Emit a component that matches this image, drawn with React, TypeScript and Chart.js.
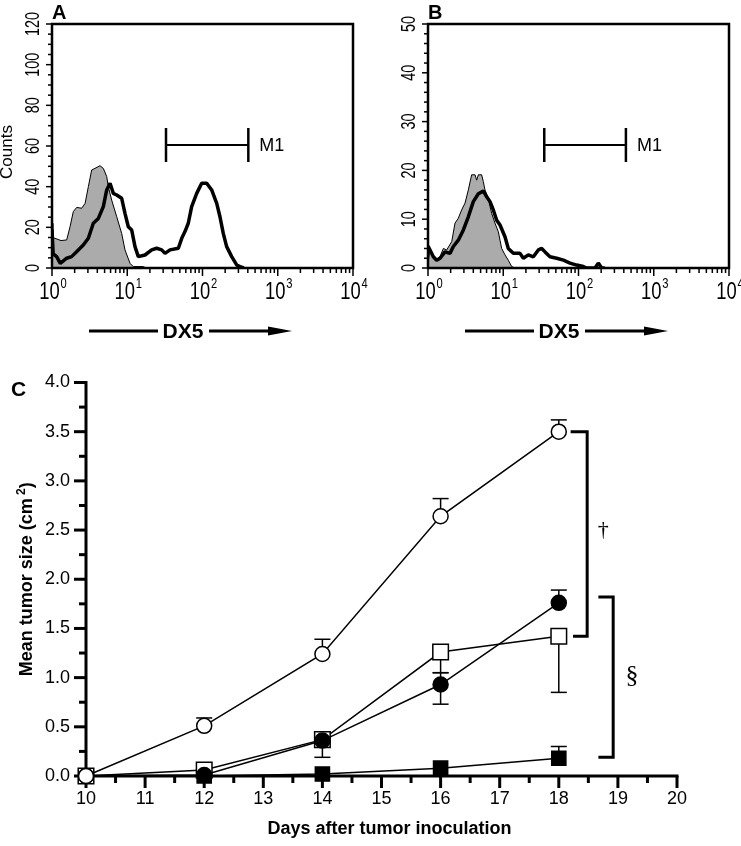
import React, { useEffect, useRef } from 'react';
import { Chart, registerables } from 'chart.js';

Chart.register(...registerables);

const FONT = '"Liberation Sans", Arial, Helvetica, sans-serif';
const SERIF = '"Liberation Serif", "DejaVu Serif", serif';

// ---------- Panel A: flow cytometry histogram (x = log10 DX5 intensity, in decades) ----------
const aIsoLog = [0, 0.012, 0.04, 0.12, 0.195, 0.24, 0.283, 0.328, 0.395, 0.44, 0.483, 0.527, 0.571, 0.638, 0.682, 0.727, 0.748, 0.793, 0.86, 0.926, 0.97, 1.037, 1.08, 1.21, 1.25];
const aIsoCount = [22, 15, 14.6, 13.5, 13.8, 20.3, 27.7, 29.8, 29.4, 31.8, 40, 48.2, 49, 50.3, 49, 45, 40, 33.4, 25.2, 17, 8.9, 2.3, 0.7, 0.7, 0];
const aDx5Log = [0, 0.015, 0.062, 0.11, 0.195, 0.261, 0.35, 0.416, 0.483, 0.549, 0.616, 0.682, 0.727, 0.771, 0.815, 0.86, 0.926, 0.97, 1.014, 1.059, 1.103, 1.147, 1.236, 1.325, 1.391, 1.458, 1.502, 1.568, 1.679, 1.724, 1.767, 1.811, 1.856, 1.923, 1.989, 2.056, 2.122, 2.189, 2.232, 2.276, 2.321, 2.388, 2.454, 2.498, 2.55];
const aDx5Count = [19, 7, 5.6, 2.3, 4.8, 5.6, 8.9, 11.3, 14.6, 22, 24.4, 30.2, 38.4, 41.7, 36.7, 35.9, 34.3, 26.9, 20.3, 18.7, 10.5, 5.6, 6.4, 8.9, 9.7, 8.9, 7.2, 8.9, 9.7, 14.6, 17.9, 22, 30.2, 36.7, 41.7, 41.7, 38.4, 31.8, 25.2, 17, 10.5, 5.6, 1.5, 0.7, 0];
const aYTicks = [0, 20, 40, 60, 80, 100, 120];
const aGate = [1.515, 2.609];
const aGateLevel = 60.5;

// ---------- Panel B ----------
const bIsoLog = [0, 0.027, 0.093, 0.16, 0.204, 0.248, 0.315, 0.359, 0.403, 0.447, 0.492, 0.536, 0.58, 0.625, 0.647, 0.669, 0.713, 0.735, 0.757, 0.802, 0.824, 0.846, 0.89, 0.935, 0.957, 0.979, 1.023, 1.067, 1.112, 1.156];
const bIsoCount = [1, 4.0, 1.6, 2.3, 4.0, 3.7, 5.4, 9.2, 10.2, 11.9, 13.3, 16, 19.1, 19.1, 18, 19.1, 19.1, 17.7, 16, 14.3, 12.6, 11.2, 9.2, 7.4, 5.7, 4.0, 2.7, 1.6, 0.3, 0];
const bDx5Log = [0, 0.027, 0.071, 0.115, 0.16, 0.226, 0.292, 0.337, 0.403, 0.47, 0.536, 0.602, 0.669, 0.735, 0.78, 0.824, 0.868, 0.913, 0.957, 1.023, 1.067, 1.134, 1.223, 1.267, 1.333, 1.4, 1.466, 1.511, 1.555, 1.621, 1.71, 1.799, 1.887, 1.976, 2.064, 2.108, 2.219, 2.263, 2.308, 2.35];
const bDx5Count = [4.5, 3.7, 2.3, 1.6, 2.0, 3.3, 3.0, 4.4, 5.7, 7.8, 10.5, 13.6, 15.2, 15.8, 14.6, 13.6, 11.9, 9.8, 8.8, 6.4, 4.0, 3.0, 3.0, 2.0, 2.7, 2.3, 3.7, 4.0, 3.3, 2.3, 2.0, 1.6, 1.0, 0.6, 0.3, 0, 0, 1.0, 0, 0];
const bYTicks = [0, 10, 20, 30, 40, 50];
const bGate = [1.545, 2.63];
const bGateLevel = 25.2;

const decadeTicks = [0, 1, 2, 3, 4];
const gateLabel = 'M1';
const histAxisLabel = 'DX5';
const countsLabel = 'Counts';

// ---------- Panel C: tumor growth ----------
const days = [10, 12, 14, 16, 18];
const openCircle = [0, 0.51, 1.24, 2.64, 3.5];
const openCircleHi = [null, 0.59, 1.39, 2.82, 3.62];
const filledCircle = [0, 0.01, 0.36, 0.93, 1.76];
const filledCircleHi = [null, null, null, 1.05, 1.89];
const filledCircleLo = [null, null, 0.19, 0.73, null];
const openSquare = [0, 0.06, 0.37, 1.26, 1.42];
const openSquareLo = [null, null, null, 1.05, 0.85];
const filledSquare = [0, 0, 0.02, 0.08, 0.18];
const filledSquareHi = [null, null, null, null, 0.3];
const cYTicks = [0, 0.5, 1, 1.5, 2, 2.5, 3, 3.5, 4];
const cXTicks = [10, 11, 12, 13, 14, 15, 16, 17, 18, 19, 20];
const cXTitle = 'Days after tumor inoculation';
const cYTitle = 'Mean tumor size (cm';

function drawText(ctx: CanvasRenderingContext2D, s: string, x: number, y: number, size: number, o: any = {}) {
  const { bold = false, align = 'left', baseline = 'alphabetic', rot = 0, sx = 1, family = FONT } = o;
  ctx.save();
  ctx.translate(x, y);
  if (rot) ctx.rotate(rot);
  if (sx !== 1) ctx.scale(sx, 1);
  ctx.font = `${bold ? 'bold ' : ''}${size}px ${family}`;
  ctx.textAlign = align;
  ctx.textBaseline = baseline;
  ctx.fillStyle = '#000';
  ctx.fillText(s, 0, 0);
  ctx.restore();
}

function measure(ctx: CanvasRenderingContext2D, s: string, size: number, bold = false, sx = 1, family = FONT) {
  ctx.save();
  ctx.font = `${bold ? 'bold ' : ''}${size}px ${family}`;
  const w = ctx.measureText(s).width * sx;
  ctx.restore();
  return w;
}

function line(ctx: CanvasRenderingContext2D, x1: number, y1: number, x2: number, y2: number, w: number) {
  ctx.lineWidth = w;
  ctx.beginPath();
  ctx.moveTo(x1, y1);
  ctx.lineTo(x2, y2);
  ctx.stroke();
}

function histPlugin(cfg: any) {
  return {
    id: 'histDecor',
    afterDraw(chart: any) {
      const { ctx, chartArea: ca } = chart;
      const xs = chart.scales.x;
      const ys = chart.scales.y;
      ctx.save();
      ctx.strokeStyle = '#000';
      ctx.lineCap = 'butt';
      // frame
      ctx.lineWidth = 2.5;
      ctx.strokeRect(ca.left, ca.top, ca.right - ca.left, ca.bottom - ca.top);
      // y ticks
      const nMinor = Math.round(cfg.yMax / cfg.yMinor);
      for (let i = 0; i <= nMinor; i++) {
        const v = i * cfg.yMinor;
        const py = ys.getPixelForValue(v);
        const major = cfg.yTicks.includes(v);
        line(ctx, ca.left - (major ? 6 : 4), py, ca.left, py, 1.5);
      }
      cfg.yTicks.forEach((v: number) => {
        drawText(ctx, String(v), ca.left - 9, ys.getPixelForValue(v), 20, { rot: -Math.PI / 2, align: 'center', baseline: 'bottom', sx: 0.72 });
      });
      // x ticks (log decades)
      for (let d = 0; d < 4; d++) {
        for (let k = 2; k <= 9; k++) {
          const px = xs.getPixelForValue(d + Math.log10(k));
          line(ctx, px, ca.bottom, px, ca.bottom + 5, 1.5);
        }
      }
      decadeTicks.forEach((d) => {
        const px = xs.getPixelForValue(d);
        line(ctx, px, ca.bottom, px, ca.bottom + 8, 1.5);
        const wb = measure(ctx, '10', 23, false, 0.8);
        const ws = measure(ctx, String(d), 14, false, 0.8);
        const left = px - (wb + ws + 1) / 2 + 1;
        drawText(ctx, '10', left, ca.bottom + 13, 23, { baseline: 'top', sx: 0.8 });
        drawText(ctx, String(d), left + wb + 1, ca.bottom + 9, 14, { baseline: 'top', sx: 0.8 });
      });
      // gate marker M1
      const gy = ys.getPixelForValue(cfg.gateLevel);
      const g0 = xs.getPixelForValue(cfg.gate[0]);
      const g1 = xs.getPixelForValue(cfg.gate[1]);
      line(ctx, g0, gy, g1, gy, 2);
      line(ctx, g0, gy - 17, g0, gy + 17, 2.5);
      line(ctx, g1, gy - 17, g1, gy + 17, 2.5);
      drawText(ctx, gateLabel, g1 + 11, gy + 1, 18, { baseline: 'middle' });
      // DX5 arrow
      const ay = ca.bottom + 63;
      line(ctx, ca.left + 37, ay, ca.left + 106, ay, 3);
      drawText(ctx, histAxisLabel, ca.left + 131, ay + 1, 21, { bold: true, align: 'center', baseline: 'middle' });
      line(ctx, ca.left + 157, ay, ca.left + 222, ay, 3);
      ctx.fillStyle = '#000';
      ctx.beginPath();
      ctx.moveTo(ca.left + 240, ay);
      ctx.lineTo(ca.left + 216, ay - 4.5);
      ctx.lineTo(ca.left + 216, ay + 4.5);
      ctx.closePath();
      ctx.fill();
      // panel letter
      drawText(ctx, cfg.letter, ca.left, 3, 20, { bold: true, baseline: 'top' });
      if (cfg.showCounts) {
        drawText(ctx, countsLabel, 16, (ca.top + ca.bottom) / 2 + 6, 17, { rot: -Math.PI / 2, align: 'center', baseline: 'bottom' });
      }
      ctx.restore();
    },
  };
}

function makeHist(canvas: HTMLCanvasElement, cfg: any) {
  const pts = (xs: number[], ys: number[]) => xs.map((x, i) => ({ x, y: ys[i] }));
  return new Chart(canvas, {
    type: 'line',
    data: {
      datasets: [
        // first dataset is painted last (on top)
        { label: 'DX5', data: pts(cfg.dx5X, cfg.dx5Y), borderColor: '#000', borderWidth: 3.5, fill: false, pointRadius: 0, tension: 0, borderJoinStyle: 'bevel' },
        { label: 'isotype', data: pts(cfg.isoX, cfg.isoY), borderColor: '#000', borderWidth: 1, backgroundColor: '#ababab', fill: 'origin', pointRadius: 0, tension: 0 },
      ],
    },
    options: {
      responsive: false,
      animation: false,
      events: [],
      layout: { padding: cfg.padding },
      plugins: { legend: { display: false }, tooltip: { enabled: false } },
      scales: {
        x: { type: 'linear', min: 0, max: 4, display: false },
        y: { type: 'linear', min: 0, max: cfg.yMax, display: false },
      },
    },
    plugins: [histPlugin(cfg)],
  } as any);
}

const errorSets = [
  { v: openCircle, hi: openCircleHi, lo: null },
  { v: filledCircle, hi: filledCircleHi, lo: filledCircleLo },
  { v: openSquare, hi: null, lo: openSquareLo },
  { v: filledSquare, hi: filledSquareHi, lo: null },
];

const growthPlugin = {
  id: 'growthDecor',
  beforeDatasetsDraw(chart: any) {
    const { ctx, chartArea: ca } = chart;
    const xs = chart.scales.x;
    const ys = chart.scales.y;
    ctx.save();
    ctx.strokeStyle = '#000';
    ctx.lineCap = 'butt';
    // axes
    line(ctx, ca.left, ca.top - 1.5, ca.left, ca.bottom + 1.5, 3);
    line(ctx, ca.left - 1.5, ca.bottom, ca.right + 1.5, ca.bottom, 3);
    // y ticks
    for (let i = 0; i <= 16; i++) {
      const v = i * 0.25;
      const py = ys.getPixelForValue(v);
      const major = i % 2 === 0;
      line(ctx, ca.left - (major ? 12 : 7), py, ca.left, py, 3);
    }
    cYTicks.forEach((v) => {
      drawText(ctx, v.toFixed(1), ca.left - 16, ys.getPixelForValue(v), 18, { align: 'right', baseline: 'middle' });
    });
    // x ticks
    for (let i = 0; i <= 20; i++) {
      const v = 10 + i * 0.5;
      const px = xs.getPixelForValue(v);
      const major = i % 2 === 0;
      line(ctx, px, ca.bottom, px, ca.bottom + (major ? 12 : 7), 3);
    }
    cXTicks.forEach((v) => {
      drawText(ctx, String(v), xs.getPixelForValue(v), ca.bottom + 14, 18, { align: 'center', baseline: 'top' });
    });
    // error bars
    errorSets.forEach((s) => {
      days.forEach((d, i) => {
        const px = xs.getPixelForValue(d);
        const py = ys.getPixelForValue(s.v[i]);
        [s.hi, s.lo].forEach((arr) => {
          if (!arr || arr[i] == null) return;
          const ey = ys.getPixelForValue(arr[i] as number);
          line(ctx, px, py, px, ey, 1.5);
          line(ctx, px - 8, ey, px + 8, ey, 1.5);
        });
      });
    });
    ctx.restore();
  },
  afterDraw(chart: any) {
    const { ctx, chartArea: ca } = chart;
    const xs = chart.scales.x;
    const ys = chart.scales.y;
    ctx.save();
    ctx.strokeStyle = '#000';
    // significance brackets
    ctx.lineWidth = 3;
    ctx.lineJoin = 'miter';
    const bx = xs.getPixelForValue(18.48);
    ctx.beginPath();
    ctx.moveTo(xs.getPixelForValue(18.2), ys.getPixelForValue(3.5));
    ctx.lineTo(bx, ys.getPixelForValue(3.5));
    ctx.lineTo(bx, ys.getPixelForValue(1.42));
    ctx.lineTo(xs.getPixelForValue(18.24), ys.getPixelForValue(1.42));
    ctx.stroke();
    const sx2 = xs.getPixelForValue(18.92);
    ctx.beginPath();
    ctx.moveTo(xs.getPixelForValue(18.67), ys.getPixelForValue(1.82));
    ctx.lineTo(sx2, ys.getPixelForValue(1.82));
    ctx.lineTo(sx2, ys.getPixelForValue(0.19));
    ctx.lineTo(xs.getPixelForValue(18.67), ys.getPixelForValue(0.19));
    ctx.stroke();
    drawText(ctx, '\u2020', xs.getPixelForValue(18.75), ys.getPixelForValue(2.5), 22, { align: 'center', baseline: 'middle', family: SERIF });
    drawText(ctx, '\u00A7', xs.getPixelForValue(19.24), ys.getPixelForValue(1.01), 26, { align: 'center', baseline: 'middle', family: SERIF });
    // titles
    drawText(ctx, cXTitle, (ca.left + ca.right) / 2 + 8, ca.bottom + 53, 18, { bold: true, align: 'center', baseline: 'middle' });
    const w1 = measure(ctx, cYTitle, 18, true);
    const w2 = measure(ctx, ' 2', 12, true);
    const w3 = measure(ctx, ')', 18, true);
    const total = w1 + w2 + w3;
    const cy = (ca.top + ca.bottom) / 2;
    ctx.save();
    ctx.translate(32, cy);
    ctx.rotate(-Math.PI / 2);
    drawText(ctx, cYTitle, -total / 2, 0, 18, { bold: true });
    drawText(ctx, ' 2', -total / 2 + w1, -7, 12, { bold: true });
    drawText(ctx, ')', -total / 2 + w1 + w2, 0, 18, { bold: true });
    ctx.restore();
    drawText(ctx, 'C', 11, ca.top - 3, 21, { bold: true, baseline: 'top' });
    ctx.restore();
  },
};

function makeGrowth(canvas: HTMLCanvasElement) {
  const pts = (ys: number[]) => days.map((d, i) => ({ x: d, y: ys[i] }));
  const base = { borderColor: '#000', borderWidth: 1.5, pointBorderColor: '#000', pointBorderWidth: 1.5, tension: 0, clip: false, fill: false };
  return new Chart(canvas, {
    type: 'line',
    data: {
      // first dataset is painted last (on top)
      datasets: [
        { ...base, label: 'open circle', data: pts(openCircle), pointStyle: 'circle', pointRadius: 7.5, pointBackgroundColor: '#fff' },
        { ...base, label: 'filled circle', data: pts(filledCircle), pointStyle: 'circle', pointRadius: 7.5, pointBackgroundColor: '#000' },
        { ...base, label: 'open square', data: pts(openSquare), pointStyle: 'rect', pointRadius: 11, pointBackgroundColor: '#fff' },
        { ...base, label: 'filled square', data: pts(filledSquare), pointStyle: 'rect', pointRadius: 10, pointBackgroundColor: '#000' },
      ],
    },
    options: {
      responsive: false,
      animation: false,
      events: [],
      layout: { padding: { left: 86, top: 12, right: 64, bottom: 70 } },
      plugins: { legend: { display: false }, tooltip: { enabled: false } },
      scales: {
        x: { type: 'linear', min: 10, max: 20, display: false },
        y: { type: 'linear', min: 0, max: 4, display: false },
      },
    },
    plugins: [growthPlugin],
  } as any);
}

const panelA = {
  letter: 'A', isoX: aIsoLog, isoY: aIsoCount, dx5X: aDx5Log, dx5Y: aDx5Count,
  yMax: 120, yTicks: aYTicks, yMinor: 5, gate: aGate, gateLevel: aGateLevel, showCounts: true,
  padding: { left: 52, top: 24, right: 17, bottom: 102 },
};
const panelB = {
  letter: 'B', isoX: bIsoLog, isoY: bIsoCount, dx5X: bDx5Log, dx5Y: bDx5Count,
  yMax: 50, yTicks: bYTicks, yMinor: 2, gate: bGate, gateLevel: bGateLevel, showCounts: false,
  padding: { left: 58, top: 24, right: 12, bottom: 102 },
};

export default function App() {
  const aRef = useRef<HTMLCanvasElement>(null);
  const bRef = useRef<HTMLCanvasElement>(null);
  const cRef = useRef<HTMLCanvasElement>(null);
  useEffect(() => {
    document.body.style.margin = '0';
    const charts = [
      makeHist(aRef.current as HTMLCanvasElement, panelA),
      makeHist(bRef.current as HTMLCanvasElement, panelB),
      makeGrowth(cRef.current as HTMLCanvasElement),
    ];
    return () => charts.forEach((c) => c.destroy());
  }, []);
  return (
    <div style={{ position: 'absolute', left: 0, top: 0, width: 741, height: 846, background: '#fff' }}>
      <canvas ref={aRef} width={370} height={370} style={{ position: 'absolute', left: 0, top: 0 }} />
      <canvas ref={bRef} width={371} height={370} style={{ position: 'absolute', left: 370, top: 0 }} />
      <canvas ref={cRef} width={741} height={476} style={{ position: 'absolute', left: 0, top: 370 }} />
    </div>
  );
}
